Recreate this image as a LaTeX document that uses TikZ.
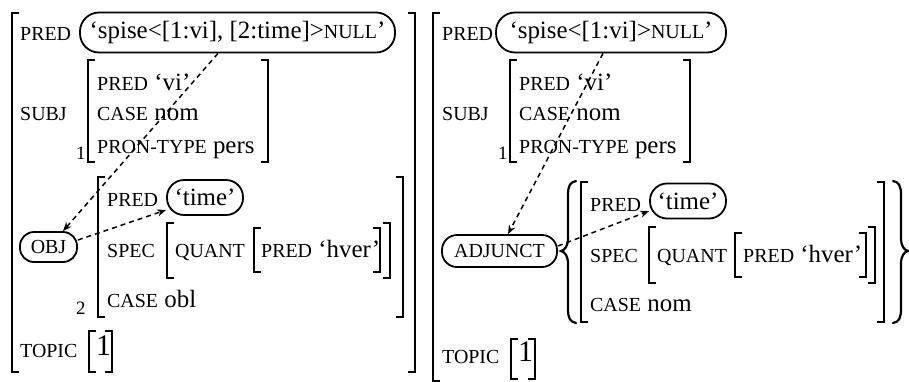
\documentclass[tikz,border=0pt]{standalone}
\usepackage{fontspec}
\setmainfont{Liberation Serif}
\usetikzlibrary{arrows.meta}

% feature names in (scaled) capitals
\newcommand\fn[1]{{\fontsize{20}{22}\selectfont #1}}
\newcommand\tagnum[1]{{\fontsize{19}{20}\selectfont #1}}
% square brackets: x, top, bottom
\newcommand\lbrk[3]{\draw[brk] (#1+7,#2) -- (#1,#2) -- (#1,#3) -- (#1+7,#3);}
\newcommand\rbrk[3]{\draw[brk] (#1-7,#2) -- (#1,#2) -- (#1,#3) -- (#1-7,#3);}
% curly set brace: stem x, top, middle, bottom, direction (+1 opens right, -1 opens left)
\newcommand\cbrace[5]{%
  \draw[brc] (#1+8*#5,#2) .. controls (#1+2*#5,#2+1) and (#1,#2+5) .. (#1,#2+14)
    -- (#1,#3-13) .. controls (#1,#3-5) and (#1-3*#5,#3-1) .. (#1-7*#5,#3)
    .. controls (#1-3*#5,#3+1) and (#1,#3+5) .. (#1,#3+13)
    -- (#1,#4-14) .. controls (#1,#4-5) and (#1+2*#5,#4-1) .. (#1+8*#5,#4);}

\begin{document}
\begin{tikzpicture}[x=1bp,y=-1bp,
  font=\fontsize{25}{28}\selectfont,
  txt/.style={anchor=base west,inner sep=0pt},
  bx/.style={draw,line width=1.8bp,inner sep=0pt,rounded corners=#1},
  bx/.default=15bp,
  brk/.style={line width=1.4bp},
  brc/.style={line width=2.2bp,line cap=round},
  lnk/.style={line width=1.5bp,dash pattern=on 5bp off 4bp,
    -{Stealth[length=9bp,width=7bp]}}]
\useasboundingbox (0,0) rectangle (909,381);

% ===== left structure =====
\lbrk{12}{13}{372}
\rbrk{415}{13}{372}
\node[txt] (lpred) at (20,40) {\fn{PRED}};
\node[bx=19bp,minimum width=315bp,minimum height=40bp] (lspise) at (237.5,32.5)
  {‘spise<[1:vi], [2:time]>\fn{NULL}’};

\node[txt] (lsubj) at (20,120) {\fn{SUBJ}};
\lbrk{88}{60}{162}
\rbrk{268}{60}{162}
\node[txt] (lsp) at (97,90) {\fn{PRED} ‘vi’};
\node[txt] (lsc) at (97,120) {\fn{CASE} nom};
\node[txt] (lst) at (97,153) {\fn{PRON-TYPE} pers};
\node[txt] (ltag1) at (76,159) {\tagnum{1}};

\node[bx=14bp,minimum width=57bp,minimum height=30bp] (lobj) at (48.5,247) {\fn{OBJ}};
\lbrk{98}{177}{317}
\rbrk{403}{177}{317}
\node[txt] (lop) at (107,206) {\fn{PRED}};
\node[bx=17bp,minimum width=76bp,minimum height=35bp] (ltime) at (205,197.5) {‘time’};
\node[txt] (los) at (107,257) {\fn{SPEC}};
\lbrk{167}{223}{278}
\node[txt] (loq) at (175,257) {\fn{QUANT}};
\lbrk{254}{228}{272}
\node[txt] (loh) at (261,257) {\fn{PRED} ‘hver’};
\rbrk{380}{228}{272}
\rbrk{390}{223}{278}
\node[txt] (loc) at (107,307) {\fn{CASE} obl};
\node[txt] (ltag2) at (76,314) {\tagnum{2}};

\node[txt] (ltop) at (20,357) {\fn{TOPIC}};
\lbrk{89}{331}{372}
\rbrk{112}{331}{372}
\node[txt] (ltopv) at (96,355) {\fontsize{30}{32}\selectfont 1};

\draw[lnk] (lspise.south -| 218,0) -- (lobj.north -| 63,0);
\draw[lnk] (lobj.east |- 0,240) -- (ltime.west |- 0,210);

% ===== right structure =====
\lbrk{433}{13}{381}
\node[txt] (rpred) at (442,40) {\fn{PRED}};
\node[bx=19bp,minimum width=230bp,minimum height=40bp] (rspise) at (611,32.5)
  {‘spise<[1:vi]>\fn{NULL}’};

\node[txt] (rsubj) at (442,120) {\fn{SUBJ}};
\lbrk{510}{60}{162}
\rbrk{690}{60}{162}
\node[txt] (rsp) at (519,90) {\fn{PRED} ‘vi’};
\node[txt] (rsc) at (519,120) {\fn{CASE} nom};
\node[txt] (rst) at (519,153) {\fn{PRON-TYPE} pers};
\node[txt] (rtag1) at (498,159) {\tagnum{1}};

\node[bx=15bp,minimum width=115bp,minimum height=32bp] (radj) at (499.5,251) {\fn{ADJUNCT}};
\cbrace{568}{181}{251}{323}{1}
\cbrace{901}{181}{251}{323}{-1}
\lbrk{581}{182}{322}
\rbrk{884}{182}{322}
\node[txt] (rap) at (590,211) {\fn{PRED}};
\node[bx=17bp,minimum width=76bp,minimum height=35bp] (rtime) at (688,201) {‘time’};
\node[txt] (ras) at (590,262) {\fn{SPEC}};
\lbrk{649}{227}{283}
\node[txt] (raq) at (657,262) {\fn{QUANT}};
\lbrk{735}{233}{277}
\node[txt] (rah) at (743,262) {\fn{PRED} ‘hver’};
\rbrk{866}{233}{277}
\rbrk{875}{227}{283}
\node[txt] (rac) at (590,311) {\fn{CASE} nom};

\node[txt] (rtop) at (442,363) {\fn{TOPIC}};
\lbrk{511}{339}{379}
\rbrk{535}{339}{379}
\node[txt] (rtopv) at (518,361) {\fontsize{30}{32}\selectfont 1};

\draw[lnk] (rspise.south -| 603,0) -- (radj.north -| 508,0);
\draw[lnk] (radj.east |- 0,246) -- (rtime.west |- 0,211);
\end{tikzpicture}
\end{document}
